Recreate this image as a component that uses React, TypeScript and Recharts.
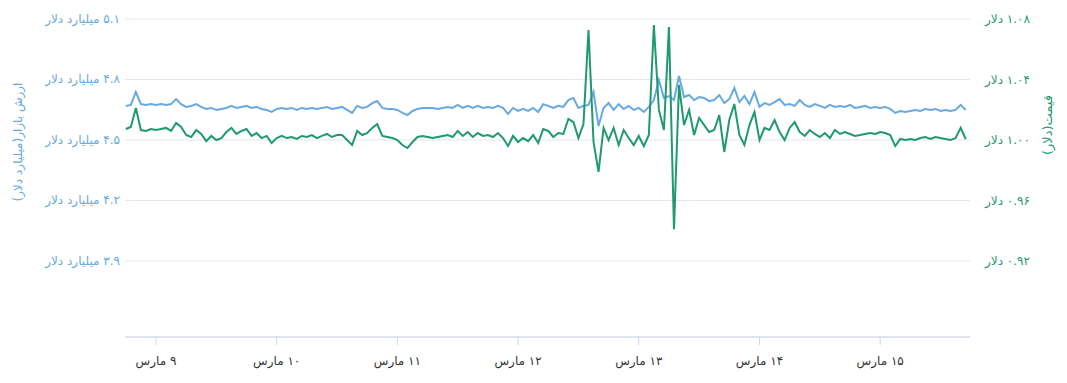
import { LineChart, Line, XAxis, YAxis, CartesianGrid } from 'recharts'

// hourly points, hour 0 = 9 March 00:00
const START_HOUR = -6

const marketCap = [
  4.669, 4.674, 4.738, 4.678, 4.674, 4.678, 4.674, 4.678, 4.674, 4.678, 4.703, 4.678, 4.664, 4.669, 4.678,
  4.664, 4.654, 4.659, 4.649, 4.654, 4.659, 4.669, 4.659, 4.664, 4.669, 4.659, 4.664, 4.654, 4.649, 4.639,
  4.654, 4.659, 4.654, 4.659, 4.649, 4.659, 4.654, 4.659, 4.654, 4.659, 4.664, 4.654, 4.659, 4.664, 4.649,
  4.634, 4.669, 4.659, 4.664, 4.683, 4.693, 4.659, 4.654, 4.654, 4.649, 4.634, 4.624, 4.644, 4.654, 4.659,
  4.659, 4.659, 4.654, 4.659, 4.664, 4.659, 4.674, 4.659, 4.669, 4.659, 4.669, 4.659, 4.664, 4.659, 4.669,
  4.659, 4.629, 4.659, 4.644, 4.654, 4.644, 4.659, 4.639, 4.678, 4.669, 4.659, 4.669, 4.664, 4.698, 4.708,
  4.659, 4.669, 4.674, 4.738, 4.569, 4.659, 4.683, 4.649, 4.678, 4.654, 4.669, 4.649, 4.659, 4.639, 4.664,
  4.698, 4.798, 4.708, 4.718, 4.698, 4.817, 4.713, 4.723, 4.698, 4.713,
  4.708, 4.693, 4.698, 4.723, 4.683, 4.703, 4.758, 4.688, 4.718, 4.678, 4.738, 4.664, 4.683, 4.674, 4.688,
  4.703, 4.674, 4.678, 4.669, 4.698, 4.674, 4.664, 4.678, 4.669, 4.659, 4.674, 4.664, 4.669,
  4.664, 4.674, 4.659, 4.664, 4.669, 4.659, 4.664, 4.659, 4.664, 4.654, 4.634, 4.644, 4.639, 4.644, 4.649,
  4.644, 4.654, 4.649, 4.654, 4.644, 4.649, 4.644, 4.649, 4.674, 4.649,
]

const price = [
  1.0073, 1.0086, 1.0212, 1.0066, 1.006, 1.0073, 1.0066, 1.0073, 1.008, 1.006, 1.0113, 1.0086, 1.0033, 1.002, 1.0066,
  1.004, 0.9993, 1.0027, 1.0, 1.0013, 1.0053, 1.008, 1.004, 1.006, 1.0073, 1.0027, 1.0046, 1.0013, 1.0027, 0.998,
  1.0013, 1.0027, 1.0013, 1.002, 1.0007, 1.0027, 1.002, 1.0033, 1.0013, 1.0027, 1.004, 1.002, 1.0033, 1.0033, 1.0,
  0.9967, 1.006, 1.0033, 1.0046, 1.008, 1.0106, 1.0027, 1.002, 1.0013, 1.0, 0.9967, 0.9947, 0.9987, 1.002, 1.0027,
  1.002, 1.0013, 1.002, 1.0027, 1.0033, 1.002, 1.006, 1.0027, 1.0053, 1.002, 1.0046, 1.0027, 1.0033, 1.002, 1.0046,
  1.0013, 0.996, 1.0027, 0.9987, 1.0013, 0.9993, 1.0033, 0.998, 1.0073, 1.006, 1.002, 1.0046, 1.004, 1.0139, 1.0119,
  1.0013, 1.0106, 1.0727, 0.9987, 0.9789, 1.008, 1.0, 1.008, 0.9967, 1.0066, 1.0013, 0.9967, 1.0027, 0.996, 1.0033,
  1.076, 1.0199, 1.0066, 1.0747, 0.941, 1.0364, 1.0099, 1.0199, 1.0033, 1.0146,
  1.0099, 1.0053, 1.0066, 1.0165, 0.9921, 1.0132, 1.0238, 1.0033, 0.9967, 1.0099, 1.0185, 1.0, 1.008, 1.0066, 1.0132,
  1.0053, 1.0, 1.008, 1.0119, 1.0053, 1.0027, 1.0066, 1.004, 1.002, 1.0046, 1.0013, 1.0066, 1.004,
  1.0053, 1.004, 1.0027, 1.0033, 1.004, 1.0046, 1.004, 1.0053, 1.0046, 1.0033, 0.996, 1.0007, 1.0, 1.0007, 1.0,
  1.0013, 1.002, 1.0007, 1.002, 1.0013, 1.0007, 1.0, 1.0013, 1.008, 1.0007,
]

const dayTicks = [0, 24, 48, 72, 96, 120, 144]
const dayLabels = ['۹ مارس', '۱۰ مارس', '۱۱ مارس', '۱۲ مارس', '۱۳ مارس', '۱۴ مارس', '۱۵ مارس']
const capTicks = [3.9, 4.2, 4.5, 4.8, 5.1]
const capLabels = ['۳.۹', '۴.۲', '۴.۵', '۴.۸', '۵.۱']
const priceTicks = [0.92, 0.96, 1.0, 1.04, 1.08]
const priceLabels = ['۰.۹۲', '۰.۹۶', '۱.۰۰', '۱.۰۴', '۱.۰۸']

const data = marketCap.map((cap, i) => ({ h: START_HOUR + i, cap, price: price[i] }))

const BLUE = '#68a9e1'
const GREEN = '#1f9a6c'
const FONT = '"DejaVu Sans", sans-serif'
// svg text is LTR, so wrap Persian labels in an RTL embedding
const rtl = (s: string) => '\u202B' + s + '\u202C'

const DayTick = ({ x, y, payload }: any) => (
  <text x={x} y={y} dy={18} textAnchor="middle" fill="#333" fontSize={12} fontFamily={FONT}>
    {rtl(dayLabels[dayTicks.indexOf(payload.value)])}
  </text>
)

const CapTick = ({ x, y, payload }: any) => (
  <text x={x} y={y} dy={4} textAnchor="end" fill={BLUE} fontSize={12} fontFamily={FONT}>
    {rtl(capLabels[capTicks.indexOf(payload.value)] + ' میلیارد دلار')}
  </text>
)

const PriceTick = ({ x, y, payload }: any) => (
  <text x={x} y={y} dy={4} textAnchor="start" fill={GREEN} fontSize={12} fontFamily={FONT}>
    {rtl(priceLabels[priceTicks.indexOf(payload.value)] + ' دلار')}
  </text>
)

export default function App() {
  return (
    <div style={{ position: 'absolute', left: 0, top: 0, background: '#fff' }}>
      <LineChart width={1067} height={383} data={data} margin={{ top: 19, right: 0, bottom: 0, left: 0 }}>
        <CartesianGrid yAxisId="cap" vertical={false} stroke="#e6e6e6" />
        <XAxis
          dataKey="h"
          type="number"
          domain={[-6.16, 161.86]}
          ticks={dayTicks}
          interval={0}
          height={46}
          tickSize={8}
          tickMargin={2}
          stroke="#ccd6eb"
          tick={DayTick}
          allowDataOverflow
        />
        <YAxis
          yAxisId="cap"
          width={125}
          domain={[3.523, 5.1]}
          ticks={capTicks}
          interval={0}
          axisLine={false}
          tickLine={false}
          tickSize={5}
          tickMargin={0}
          tick={CapTick}
          allowDataOverflow
          label={{
            content: () => (
              <text x={22} y={142} transform="rotate(-90 22 142)" textAnchor="middle" fill={BLUE} fontSize={12} fontFamily={FONT}>
                {rtl('ارزش بازار(میلیارد دلار)')}
              </text>
            ),
          }}
        />
        <YAxis
          yAxisId="price"
          orientation="right"
          width={97}
          domain={[0.8698, 1.08]}
          ticks={priceTicks}
          interval={0}
          axisLine={false}
          tickLine={false}
          tickSize={15}
          tickMargin={0}
          tick={PriceTick}
          allowDataOverflow
          label={{
            content: () => (
              <text x={1052} y={125} transform="rotate(-90 1052 125)" textAnchor="middle" fill={GREEN} fontSize={13} fontFamily={FONT}>
                {rtl('قیمت(دلار)')}
              </text>
            ),
          }}
        />
        <Line yAxisId="cap" type="linear" dataKey="cap" stroke={BLUE} strokeWidth={2} dot={false} isAnimationActive={false} />
        <Line yAxisId="price" type="linear" dataKey="price" stroke={GREEN} strokeWidth={2} dot={false} isAnimationActive={false} />
      </LineChart>
    </div>
  )
}
